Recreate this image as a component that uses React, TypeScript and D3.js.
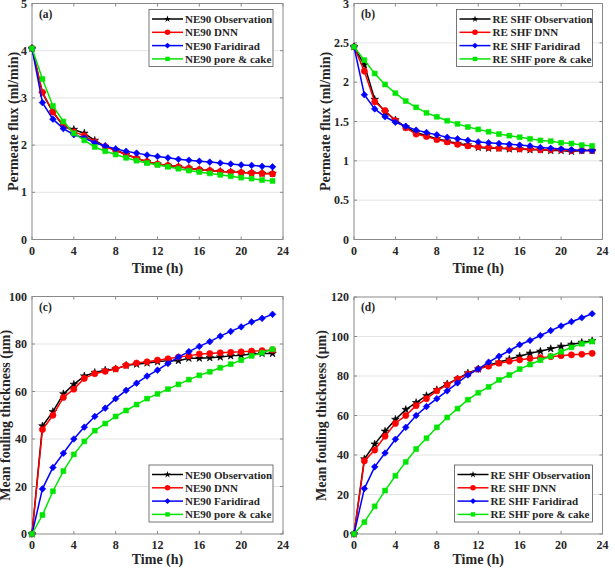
import { useEffect, useRef } from 'react';
import * as d3 from 'd3';

const hours = d3.range(0, 24);
const xTicks = [0, 4, 8, 12, 16, 20, 24];

// (a) NE90 permeate flux
const fluxNeObs = [4.05, 3.1, 2.7, 2.4, 2.33, 2.25, 2.1, 1.97, 1.9, 1.8, 1.72, 1.65, 1.6, 1.57, 1.54, 1.51, 1.48, 1.46, 1.44, 1.43, 1.42, 1.41, 1.4, 1.4];
const fluxNeDnn = [4.05, 3.12, 2.7, 2.42, 2.28, 2.2, 2.07, 1.97, 1.88, 1.8, 1.72, 1.65, 1.6, 1.57, 1.54, 1.51, 1.48, 1.46, 1.44, 1.43, 1.42, 1.41, 1.4, 1.39];
const fluxNeFar = [4.05, 2.9, 2.55, 2.35, 2.22, 2.15, 2.05, 1.98, 1.92, 1.87, 1.83, 1.79, 1.76, 1.73, 1.7, 1.68, 1.66, 1.64, 1.62, 1.6, 1.58, 1.57, 1.55, 1.54];
const fluxNePore = [4.05, 3.4, 2.83, 2.5, 2.25, 2.1, 1.96, 1.87, 1.8, 1.73, 1.67, 1.62, 1.58, 1.54, 1.5, 1.46, 1.43, 1.4, 1.37, 1.34, 1.31, 1.29, 1.26, 1.24];

// (b) RE SHF permeate flux
const fluxReObs = [2.45, 2.22, 1.78, 1.62, 1.52, 1.43, 1.36, 1.32, 1.28, 1.25, 1.22, 1.2, 1.17, 1.16, 1.16, 1.15, 1.15, 1.14, 1.14, 1.13, 1.13, 1.12, 1.13, 1.13];
const fluxReDnn = [2.45, 2.14, 1.75, 1.64, 1.51, 1.42, 1.34, 1.31, 1.27, 1.24, 1.21, 1.19, 1.18, 1.17, 1.16, 1.16, 1.15, 1.15, 1.14, 1.14, 1.14, 1.13, 1.13, 1.13];
const fluxReFar = [2.45, 1.84, 1.66, 1.56, 1.49, 1.44, 1.39, 1.36, 1.33, 1.3, 1.28, 1.26, 1.24, 1.23, 1.22, 1.21, 1.2, 1.19, 1.17, 1.16, 1.15, 1.14, 1.13, 1.13];
const fluxRePore = [2.45, 2.28, 2.11, 1.97, 1.86, 1.76, 1.68, 1.61, 1.56, 1.51, 1.47, 1.43, 1.4, 1.37, 1.34, 1.32, 1.3, 1.28, 1.26, 1.25, 1.23, 1.22, 1.2, 1.19];

// (c) NE90 fouling thickness
const thickNeObs = [0, 45.5, 51.5, 59, 63, 66.5, 68, 69, 69.5, 71, 71.5, 72, 72.5, 73, 73, 74, 74, 74.2, 74.5, 75, 75.3, 75.8, 76, 76];
const thickNeDnn = [0, 44, 50, 57.5, 61, 65.5, 67.5, 68.5, 69.5, 71, 72, 72.5, 73.2, 73.8, 74.5, 75, 75.8, 76, 76.3, 76.5, 76.7, 77, 77.2, 77.5];
const thickNeFar = [0, 19, 28, 34, 40, 45, 49.5, 53, 57, 60.5, 63.5, 66.5, 69, 71.8, 74.5, 76.8, 79, 81, 83.3, 85.3, 87.2, 89.3, 90.8, 92.5];
const thickNePore = [0, 8, 18, 26.5, 33.5, 39, 43.5, 46.5, 49.5, 52, 54.5, 57, 59, 61, 63, 65, 66.8, 68.3, 70, 71.5, 73.2, 75, 76.3, 77.8];

// (d) RE SHF fouling thickness
const thickReObs = [0, 38, 45.5, 52, 58, 63, 66.5, 70, 73, 76, 78.5, 81.5, 83.5, 85.5, 87, 88.5, 90, 91.5, 92.5, 93.8, 95, 96, 97, 97.8];
const thickReDnn = [0, 37, 42.5, 49.5, 56, 60, 65, 68.5, 72.5, 75.5, 78.5, 81, 83.5, 85, 86.5, 87.5, 88.2, 88.8, 89.3, 89.8, 90.3, 90.7, 91, 91.5];
const thickReFar = [0, 23, 34, 41, 48, 54, 60, 64.5, 68.5, 72.5, 76.5, 80.5, 83.5, 87, 90, 92.8, 95.8, 98, 100.5, 103, 105.3, 107.5, 109.5, 111.5];
const thickRePore = [0, 6, 14, 22, 29.5, 36.5, 43, 48.5, 54, 59, 63.5, 68, 71.5, 74.5, 78, 80.5, 83.5, 85.8, 88, 90, 92.3, 94.5, 96.3, 97.5];

const seriesNames = ['Observation', 'DNN', 'Faridirad', 'pore & cake'];
const seriesColors = ['#000000', '#ff0000', '#0000ff', '#00e600'];
const seriesSymbols = [d3.symbolStar, d3.symbolCircle, d3.symbolDiamond2, d3.symbolSquare];
const symbolSizes = [18, 30, 28, 24];

type Panel = {
  tag: string;
  prefix: string;
  series: number[][];
  yMax: number;
  yStep: number;
  yLabel: string;
  left: number;
  right: number;
  top: number;
  bottom: number;
  legendTop: boolean;
  legendWidth: number;
  yLabelX: number;
  xLabelGap: number;
};

const panels: Panel[] = [
  { tag: '(a)', prefix: 'NE90', series: [fluxNeObs, fluxNeDnn, fluxNeFar, fluxNePore], yMax: 5, yStep: 1, yLabel: 'Permeate flux (ml/min)', left: 32, right: 283, top: 3.5, bottom: 239.5, legendTop: true, legendWidth: 124, yLabelX: 13, xLabelGap: 33 },
  { tag: '(b)', prefix: 'RE SHF', series: [fluxReObs, fluxReDnn, fluxReFar, fluxRePore], yMax: 3, yStep: 0.5, yLabel: 'Permeate flux (ml/min)', left: 354, right: 602.5, top: 3.5, bottom: 239.5, legendTop: true, legendWidth: 136, yLabelX: 325.5, xLabelGap: 33 },
  { tag: '(c)', prefix: 'NE90', series: [thickNeObs, thickNeDnn, thickNeFar, thickNePore], yMax: 100, yStep: 20, yLabel: 'Mean fouling thickness (μm)', left: 32, right: 283, top: 296.5, bottom: 534, legendTop: false, legendWidth: 124, yLabelX: 5, xLabelGap: 30 },
  { tag: '(d)', prefix: 'RE SHF', series: [thickReObs, thickReDnn, thickReFar, thickRePore], yMax: 120, yStep: 20, yLabel: 'Mean fouling thickness (μm)', left: 354, right: 602.5, top: 297, bottom: 534, legendTop: false, legendWidth: 138, yLabelX: 321.5, xLabelGap: 30 },
];

const FONT = '"Liberation Serif", "Times New Roman", serif';

function drawPanel(root: d3.Selection<SVGGElement, unknown, null, undefined>, p: Panel) {
  const g = root.append('g');
  const x = d3.scaleLinear().domain([0, 24]).range([p.left, p.right]);
  const y = d3.scaleLinear().domain([0, p.yMax]).range([p.bottom, p.top]);
  const yTicks = d3.range(0, p.yMax + p.yStep / 2, p.yStep);

  // horizontal grid
  g.append('g')
    .selectAll('line')
    .data(yTicks.slice(1, -1))
    .join('line')
    .attr('x1', p.left)
    .attr('x2', p.right)
    .attr('y1', (d: number) => y(d))
    .attr('y2', (d: number) => y(d))
    .attr('stroke', '#e4e4e4')
    .attr('stroke-width', 1);

  const axisColor = '#8a8a8a';
  g.append('rect')
    .attr('x', p.left)
    .attr('y', p.top)
    .attr('width', p.right - p.left)
    .attr('height', p.bottom - p.top)
    .attr('fill', 'none')
    .attr('stroke', axisColor)
    .attr('stroke-width', 1);

  // inward ticks on all four sides
  const tickLen = 3;
  const ticks = g.append('g').attr('stroke', axisColor);
  xTicks.forEach((t) => {
    ticks.append('line').attr('x1', x(t)).attr('x2', x(t)).attr('y1', p.bottom).attr('y2', p.bottom - tickLen);
    ticks.append('line').attr('x1', x(t)).attr('x2', x(t)).attr('y1', p.top).attr('y2', p.top + tickLen);
  });
  yTicks.forEach((t) => {
    ticks.append('line').attr('x1', p.left).attr('x2', p.left + tickLen).attr('y1', y(t)).attr('y2', y(t));
    ticks.append('line').attr('x1', p.right).attr('x2', p.right - tickLen).attr('y1', y(t)).attr('y2', y(t));
  });

  const labels = g.append('g').attr('font-family', FONT).attr('font-weight', 'bold').attr('fill', '#262626');
  labels
    .selectAll('text.xt')
    .data(xTicks)
    .join('text')
    .attr('class', 'xt')
    .attr('x', (d: number) => x(d))
    .attr('y', p.bottom + 15)
    .attr('text-anchor', 'middle')
    .attr('font-size', 12)
    .text((d: number) => String(d));

  labels
    .selectAll('text.yt')
    .data(yTicks)
    .join('text')
    .attr('class', 'yt')
    .attr('x', p.left - 5)
    .attr('y', (d: number) => y(d) + 4)
    .attr('text-anchor', 'end')
    .attr('font-size', 12)
    .text((d: number) => String(d));

  labels
    .append('text')
    .attr('x', (p.left + p.right) / 2)
    .attr('y', p.bottom + p.xLabelGap)
    .attr('text-anchor', 'middle')
    .attr('font-size', 14)
    .text('Time (h)');

  labels
    .append('text')
    .attr('transform', `translate(${p.yLabelX},${(p.top + p.bottom) / 2}) rotate(-90)`)
    .attr('dominant-baseline', 'central')
    .attr('text-anchor', 'middle')
    .attr('font-size', 14)
    .text(p.yLabel);

  labels
    .append('text')
    .attr('x', p.left + 7)
    .attr('y', p.top + 14)
    .attr('font-size', 11.5)
    .text(p.tag);

  // series
  const line = d3
    .line<number>()
    .x((_d: number, i: number) => x(hours[i]))
    .y((d: number) => y(d));

  p.series.forEach((values, si) => {
    const sg = g.append('g');
    sg.append('path')
      .attr('d', line(values))
      .attr('fill', 'none')
      .attr('stroke', seriesColors[si])
      .attr('stroke-width', 1.5);
    const sym = d3.symbol().type(seriesSymbols[si]).size(symbolSizes[si]);
    sg.selectAll('path.m')
      .data(values)
      .join('path')
      .attr('class', 'm')
      .attr('d', sym() as string)
      .attr('transform', (d: number, i: number) => `translate(${x(hours[i])},${y(d)})`)
      .attr('fill', seriesColors[si])
      .attr('stroke', seriesColors[si])
      .attr('stroke-width', 0.6);
  });

  // legend
  const rowH = 13.3;
  const boxH = 57;
  const boxX = p.right - 10 - p.legendWidth;
  const boxY = p.legendTop ? p.top + 6 : p.bottom - 12 - boxH;
  const lg = g.append('g');
  lg.append('rect')
    .attr('x', boxX)
    .attr('y', boxY)
    .attr('width', p.legendWidth)
    .attr('height', boxH)
    .attr('fill', '#ffffff')
    .attr('stroke', '#555')
    .attr('stroke-width', 0.8);
  seriesNames.forEach((name, si) => {
    const cy = boxY + 9.5 + si * rowH;
    lg.append('line')
      .attr('x1', boxX + 3)
      .attr('x2', boxX + 34)
      .attr('y1', cy)
      .attr('y2', cy)
      .attr('stroke', seriesColors[si])
      .attr('stroke-width', 1.5);
    lg.append('path')
      .attr('d', d3.symbol().type(seriesSymbols[si]).size(symbolSizes[si] * 0.8)() as string)
      .attr('transform', `translate(${boxX + 18.5},${cy})`)
      .attr('fill', seriesColors[si]);
    lg.append('text')
      .attr('x', boxX + 36)
      .attr('y', cy + 4)
      .attr('font-family', FONT)
      .attr('font-weight', 'bold')
      .attr('font-size', 11)
      .attr('fill', '#262626')
      .text(`${p.prefix} ${name}`);
  });
}

export default function App() {
  const ref = useRef<SVGSVGElement>(null);

  useEffect(() => {
    if (!ref.current) return;
    const svg = d3.select(ref.current);
    svg.selectAll('*').remove();
    const root = svg.append('g');
    panels.forEach((p) => drawPanel(root, p));
  }, []);

  return (
    <svg
      ref={ref}
      width={615}
      height={568}
      style={{ position: 'absolute', left: 0, top: 0, background: '#ffffff' }}
    />
  );
}
